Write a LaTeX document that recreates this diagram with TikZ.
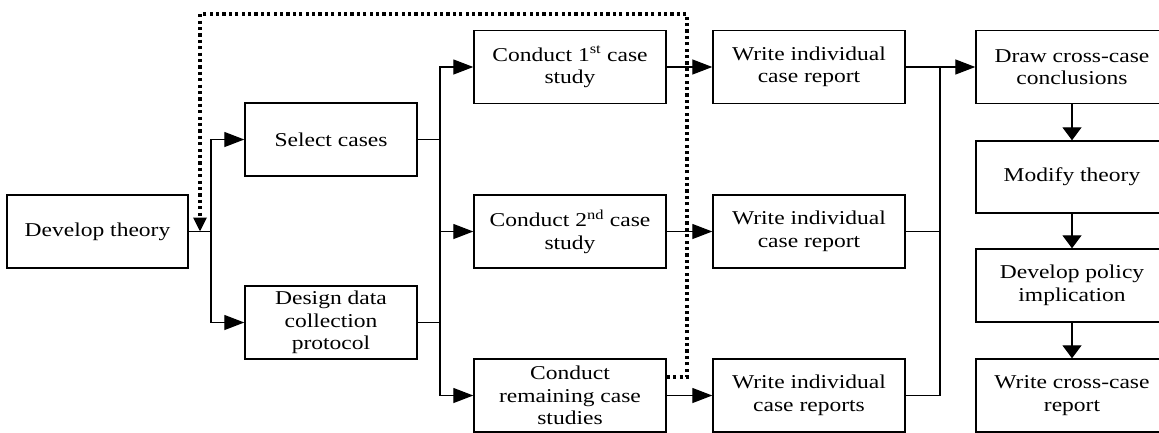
\documentclass[tikz,border=0pt]{standalone}
\usepackage{fontspec}
\setmainfont{Liberation Serif}[FakeStretch=1.2]
\usetikzlibrary{arrows.meta,calc}
\begin{document}
\begin{tikzpicture}[x=1pt,y=-1pt,
  box/.style={draw,line width=1.4pt,minimum height=73pt,inner sep=0pt,align=center,
              font=\fontsize{19.6}{22.5}\selectfont},
  narrowbox/.style={box,minimum width=172pt},
  widebox/.style={box,minimum width=192pt},
  link/.style={line width=1.3pt},
  harrow/.style={link,-{Triangle[length=20pt,width=15pt]}},
  varrow/.style={link,-{Triangle[length=13pt,width=19pt]}},
  feedback/.style={line width=3.2pt,dash pattern=on 3.2pt off 3.2pt,
                   -{Triangle[length=14pt,width=13pt]}}]
\useasboundingbox (0,0) rectangle (1159,432);

% first stage
\node[box,minimum width=181pt] (theory) at (97.5,231.5) {Develop theory};
\node[narrowbox] (select) at (331,139.5) {Select cases};
\node[narrowbox] (design) at (331,322.5) {Design data\\collection\\protocol};

% case studies
\node[widebox] (c1) at (570,67)    {Conduct 1\textsuperscript{st} case\\study};
\node[widebox] (c2) at (570,231.5) {Conduct 2\textsuperscript{nd} case\\study};
\node[widebox] (c3) at (570,395.5) {Conduct\\remaining case\\studies};

% individual reports
\node[widebox] (w1) at (809,67)    {Write individual\\case report};
\node[widebox] (w2) at (809,231.5) {Write individual\\case report};
\node[widebox] (w3) at (809,395.5) {Write individual\\case reports};

% cross-case analysis
\node[widebox] (draw)   at (1072,67)    {Draw cross-case\\conclusions};
\node[widebox,minimum height=72pt] (modify) at (1072,177) {Modify theory};
\node[widebox] (policy) at (1072,285.5) {Develop policy\\implication};
\node[widebox] (cross)  at (1072,395.5) {Write cross-case\\report};

% branch points
\coordinate (j1) at (211,231.5);
\coordinate (j2) at (440,231.5);
\coordinate (j3) at (940,231.5);

% theory -> select / design
\draw[link] (theory.east) -- (j1);
\draw[harrow] (j1) |- (select.west);
\draw[harrow] (j1) |- (design.west);

% select / design -> case studies
\draw[link] (select.east) -- (select.east -| j2);
\draw[link] (design.east) -- (design.east -| j2);
\draw[harrow] (j2) |- (c1.west);
\draw[harrow] (j2) -- (c2.west);
\draw[harrow] (j2) |- (c3.west);

% case studies -> reports
\draw[harrow] (c1) -- (w1);
\draw[harrow] (c2) -- (w2);
\draw[harrow] (c3) -- (w3);

% reports -> conclusions
\draw[link] (w2.east) -- (j3);
\draw[link] (w3.east) -| (j3);
\draw[link] (j3) |- (w1.east);
\draw[harrow] (w1.east -| j3) -- (draw.west);

% right column
\draw[varrow] (draw) -- (modify);
\draw[varrow] (modify) -- (policy);
\draw[varrow] (policy) -- (cross);

% feedback loop
\coordinate (fb0) at ($(c3.east)+(0,-18.5)$);
\coordinate (fb1) at (687,14);
\coordinate (fb2) at (200,14);
\draw[feedback] (fb0) -| (fb1) -- (fb2) -- (fb2 |- theory.east);
\end{tikzpicture}
\end{document}
